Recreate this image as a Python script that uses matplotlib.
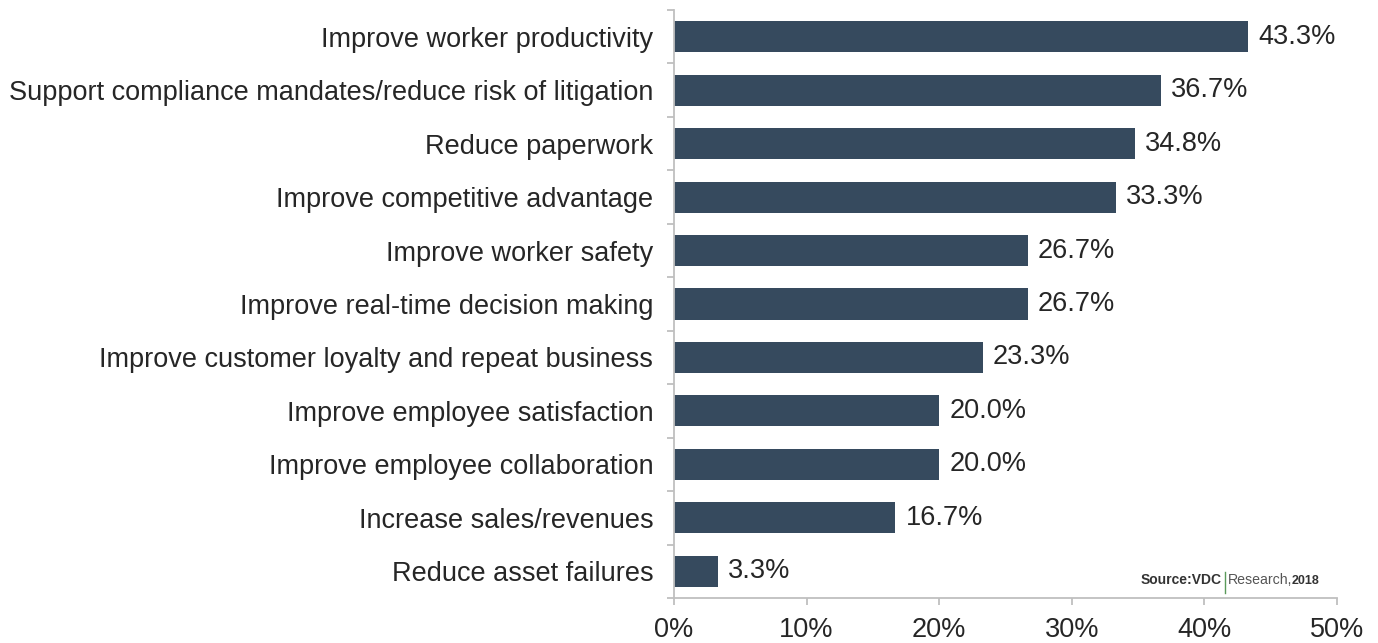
import numpy as np
import matplotlib
matplotlib.use("Agg")
import matplotlib.pyplot as plt

plt.rcParams['font.family'] = ['Liberation Sans', 'DejaVu Sans']

categories = ["Improve worker productivity",
              "Support compliance mandates/reduce risk of litigation",
              "Reduce paperwork",
              "Improve competitive advantage",
              "Improve worker safety",
              "Improve real-time decision making",
              "Improve customer loyalty and repeat business",
              "Improve employee satisfaction",
              "Improve employee collaboration",
              "Increase sales/revenues",
              "Reduce asset failures"]
values = [43.3, 36.7, 34.8, 33.3, 26.7, 26.7, 23.3, 20.0, 20.0, 16.7, 3.3]
xticks = [0, 10, 20, 30, 40, 50]

bar_color = "#364a5e"
axis_color = "#bfbfbf"
text_color = "#262626"

W, H = 1378, 643
fig = plt.figure(figsize=(W / 100, H / 100), dpi=100)
ax = fig.add_axes([674/W, 1 - 598/H, (1337 - 674)/W, (598 - 10)/H])

y = np.arange(len(categories))
ax.barh(y, values, height=0.58, color=bar_color)
for yi, v in zip(y, values):
    ax.text(v + 0.75, yi, f"{v:.1f}%", va='center', ha='left', fontsize=19.5, color=text_color)

ax.set_ylim(len(categories) - 0.5, -0.5)
ax.set_xlim(0, 50)
ax.set_yticks(y)
ax.set_yticklabels(categories, fontsize=19.5, color=text_color)
ax.set_yticks(np.arange(len(categories) + 1) - 0.5, minor=True)
ax.tick_params(axis='y', which='major', length=0, pad=15)
ax.tick_params(axis='y', which='minor', length=5, color=axis_color, width=1.3)
ax.set_xticks(xticks)
ax.set_xticklabels([f"{t}%" for t in xticks], fontsize=19.5, color=text_color)
ax.tick_params(axis='x', length=5, color=axis_color, width=1.3, pad=9)

for s in ['top', 'right']:
    ax.spines[s].set_visible(False)
for s in ['left', 'bottom']:
    ax.spines[s].set_color(axis_color)
    ax.spines[s].set_linewidth(1.3)

# source note
ys = 1 - 580/H
fig.text(1222/W, ys, "Source:VDC", ha='right', va='center', fontsize=10,
         color='#333333', fontweight='bold')
fig.lines.append(plt.Line2D([1225/W, 1225/W], [1 - 572/H, 1 - 593/H],
                            transform=fig.transFigure, color='#5a9a5a', lw=1))
fig.text(1228/W, ys, "Research,", ha='left', va='center', fontsize=10.2,
         color='#555555')
fig.text(1292/W, ys - 0.001, "2018", ha='left', va='center', fontsize=9,
         color='#333333', fontweight='bold')

fig.savefig("out.png", dpi=100, facecolor='white')
